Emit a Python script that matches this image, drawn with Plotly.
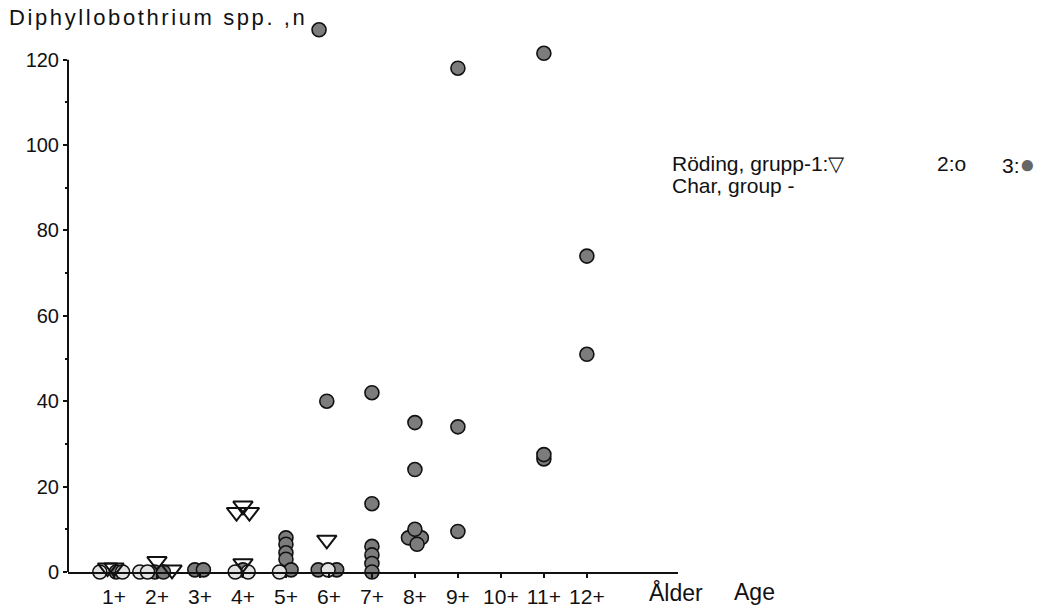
import plotly.graph_objects as go

# ---- data (age class, number of Diphyllobothrium spp.) ----
tick_vals = [1, 2, 3, 4, 5, 6, 7, 8, 9, 10, 11, 12]
tick_text = ["1+", "2+", "3+", "4+", "5+", "6+", "7+", "8+", "9+", "10+", "11+", "12+"]
y_ticks = [0, 20, 40, 60, 80, 100, 120]
y_minor = [10, 30, 50, 70, 90, 110]

# group 1 (open triangles)
g1_age = [0.85, 1.0, 2.0, 2.35, 3.85, 4.15, 4.0, 4.0, 5.95]
g1_n = [1.0, 1.0, 2.5, 0.5, 14.0, 14.0, 15.5, 2.0, 7.5]

# group 2 (open circles)
g2_age = [0.67, 1.2, 1.6, 1.78, 3.82, 4.12, 4.85, 5.98]
g2_n = [0.0, 0.0, 0.0, 0.0, 0.0, 0.0, 0.0, 0.5]

# group 3 (filled circles)
g3_age = [1.05, 1.95, 2.15, 2.88, 3.08, 4.0,
          5.0, 5.0, 5.0, 5.0, 5.12,
          5.75, 6.18, 5.95, 5.77,
          7.0, 7.0, 7.0, 7.0, 7.0, 7.0,
          8.0, 8.0, 7.85, 8.15, 8.0, 8.05,
          9.0, 9.0, 9.0,
          11.0, 11.0, 11.0,
          12.0, 12.0]
g3_n = [0.0, 0.0, 0.0, 0.5, 0.5, 0.5,
        8.0, 6.5, 4.5, 3.0, 0.5,
        0.5, 0.5, 40.0, 127.0,
        6.0, 4.0, 2.0, 0.0, 42.0, 16.0,
        35.0, 24.0, 8.0, 8.0, 10.0, 6.5,
        118.0, 34.0, 9.5,
        121.5, 26.5, 27.5,
        74.0, 51.0]

FONT = "Liberation Sans"
INK = "#111111"

fig = go.Figure()
fig.add_trace(go.Scatter(
    x=g3_age, y=g3_n, mode="markers", cliponaxis=False, name="3",
    marker=dict(symbol="circle", size=14, color="#7c7c7c",
                line=dict(color=INK, width=1.6))))
fig.add_trace(go.Scatter(
    x=g2_age, y=g2_n, mode="markers", cliponaxis=False, name="2",
    marker=dict(symbol="circle", size=14, color="#e2e2e2",
                line=dict(color=INK, width=1.6))))
fig.add_trace(go.Scatter(
    x=g1_age, y=g1_n, mode="markers", cliponaxis=False, name="1",
    marker=dict(symbol="triangle-down-open", size=17, color=INK,
                line=dict(color=INK, width=2))))

W, H = 1063, 612
Y_TOP = 130
L, R, B = 68, 678, 572
T = B - (B - 60) * Y_TOP / 120.0   # 120 sits at pixel 60


def px(xp):
    return (xp - L) / (R - L)


def py(yp):
    return (B - yp) / (B - T)


ann = [
    dict(text="<span style='letter-spacing:2.6px'>Diphyllobothrium spp. ,n</span>",
         x=px(7), y=py(18), size=22),
    dict(text="Röding, grupp-1:▽", x=px(670), y=py(164), size=21),
    dict(text="2:o", x=px(935), y=py(164), size=21),
    dict(text="3:<span style='color:#666;font-size:26px'>●</span>", x=px(1000), y=py(164), size=21),
    dict(text="Char, group -", x=px(670), y=py(186), size=21),
    dict(text="Ålder", x=px(647), y=py(592), size=23),
    dict(text="Age", x=px(732), y=py(592), size=23),
]
annotations = [dict(text=a["text"], x=a["x"], y=a["y"], xref="paper", yref="paper",
                    xanchor="left", yanchor="middle", showarrow=False,
                    font=dict(family=FONT, size=a["size"], color=INK))
               for a in ann]

fig.update_layout(
    width=W, height=H,
    margin=dict(l=L, r=W - R, t=T, b=H - B, pad=0, autoexpand=False),
    paper_bgcolor="white", plot_bgcolor="white",
    showlegend=False,
    annotations=annotations,
    shapes=[dict(type="line", xref="paper", yref="y", x0=0, x1=0, y0=0, y1=120,
                 line=dict(color=INK, width=2))],
    font=dict(family=FONT, size=20, color=INK),
    xaxis=dict(range=[-0.07, 14.12], tickvals=tick_vals, ticktext=tick_text,
               automargin=False,
               showgrid=False, zeroline=False, showline=True, linecolor=INK,
               linewidth=2, ticks="outside", ticklen=4, tickwidth=2,
               tickcolor=INK, ticklabelstandoff=1,
               tickfont=dict(size=21, family=FONT)),
    yaxis=dict(range=[0, Y_TOP], tickvals=y_ticks, automargin=False,
               showgrid=False, zeroline=False, showline=False,
               ticks="outside", ticklen=4, tickwidth=1.5,
               tickcolor=INK, tickfont=dict(size=20, family=FONT),
               minor=dict(tickvals=y_minor, ticks="outside", ticklen=2,
                          tickwidth=1.5, tickcolor=INK)),
)

fig.write_html("out.html")
